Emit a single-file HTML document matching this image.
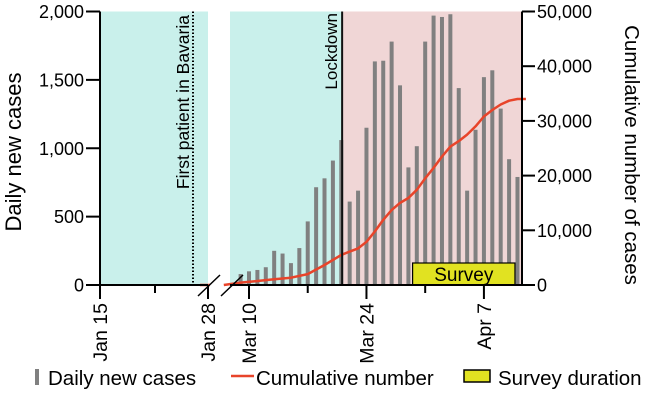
<!DOCTYPE html>
<html><head><meta charset="utf-8"><style>
body{margin:0;background:#fff;}
svg{display:block;font-family:"Liberation Sans",Arial,sans-serif;}
</style></head><body>
<svg id="chart" width="646" height="405" viewBox="0 0 646 405" xmlns="http://www.w3.org/2000/svg">
<g id="bg"></g>
<g id="bars"></g>
<g id="axes"></g>
</svg>
<script>
const dates = ["Mar 9","Mar 10","Mar 11","Mar 12","Mar 13","Mar 14","Mar 15","Mar 16","Mar 17","Mar 18","Mar 19","Mar 20","Mar 21","Mar 22","Mar 23","Mar 24","Mar 25","Mar 26","Mar 27","Mar 28","Mar 29","Mar 30","Mar 31","Apr 1","Apr 2","Apr 3","Apr 4","Apr 5","Apr 6","Apr 7","Apr 8","Apr 9","Apr 10","Apr 11"];
const dailyCases = [80,100,110,130,250,230,160,270,465,715,780,910,1060,610,690,1150,1635,1640,1780,1460,860,1015,1780,1970,1960,1980,1440,690,1135,1520,1570,1290,920,790];
const cumDays = [-2,0,2,4,6,8,10,12,13,14,15,16,17,18,19,20,21,22,23,24,25,26,27,28,29,30,31,32,33,34];
const cumValues = [0,430,730,1040,1340,2000,3660,5500,6100,6700,7900,9800,11900,13700,15000,15900,17400,19500,21400,23500,25300,26300,27500,29000,30800,32000,33000,33700,34000,34000];
const leftTicks = [0,500,1000,1500,2000];
const leftTickLabels = ["0","500","1,000","1,500","2,000"];
const rightTicks = [0,10000,20000,30000,40000,50000];
const rightTickLabels = ["0","10,000","20,000","30,000","40,000","50,000"];
const xTickDays = [1,15,29];
const xTickLabels = ["Mar 10","Mar 24","Apr 7"];
const xMinorDays = [8,22];
const lockdownDay = 12.1;
const surveyStart = 20.5, surveyEnd = 32.7;

const NS="http://www.w3.org/2000/svg";
const Y0=285, YT=11.5;
const yL=v=>Y0-(v/2000)*(Y0-YT);
const yR=v=>Y0-(v/50000)*(Y0-YT);
const xD=d=>249+(d-1)*8.39; // day index 0 = Mar 9
function mk(p,tag,a,name,txt){const e=document.createElementNS(NS,tag);for(const k in a)e.setAttribute(k,a[k]);


if(txt!==undefined)e.textContent=txt;document.getElementById(p).appendChild(e);return e;}
// backgrounds
mk('bg','rect',{x:101,y:YT,width:107,height:Y0-YT,fill:'#c9f0eb'},'pre-region-left');
mk('bg','rect',{x:230,y:YT,width:xD(lockdownDay)-230,height:Y0-YT,fill:'#c9f0eb'},'pre-lockdown-region');
mk('bg','rect',{x:xD(lockdownDay),y:YT,width:522-xD(lockdownDay),height:Y0-YT,fill:'#f0d6d6'},'lockdown-region');
// bars
dailyCases.forEach((v,i)=>{const b=mk('bars','rect',{x:xD(i)-2,y:yL(v),width:4,height:Y0-yL(v),fill:'#808080'},'bar-'+i);});
// survey box
mk('bars','rect',{x:xD(surveyStart),y:263,width:xD(surveyEnd)-xD(surveyStart),height:22,fill:'#e1e221',stroke:'#000','stroke-width':1.2},'survey-box');
mk('bars','text',{x:(xD(surveyStart)+xD(surveyEnd))/2,y:281,'font-size':19,'text-anchor':'middle',fill:'#000'},'survey-label','Survey');
// cumulative
let d=cumDays.map((c,i)=>(i?'L':'M')+xD(c).toFixed(1)+','+yR(cumValues[i]).toFixed(1)).join(' ');
mk('bars','path',{d:d,fill:'none',stroke:'#e8442a','stroke-width':2.5,'stroke-linejoin':'round'},'cumulative-line');
mk('bars','line',{x1:200,y1:Y0,x2:210,y2:Y0,stroke:'#e8442a','stroke-width':2.5},'cumulative-line-early');
// lockdown line
mk('axes','line',{x1:xD(lockdownDay),y1:YT,x2:xD(lockdownDay),y2:Y0,stroke:'#111','stroke-width':2},'lockdown-line');
mk('axes','text',{transform:`translate(${xD(lockdownDay)-5},13) rotate(-90)`,'font-size':17,'text-anchor':'end',fill:'#000'},'lockdown-label','Lockdown');
mk('axes','line',{x1:193,y1:YT,x2:193,y2:Y0,stroke:'#000','stroke-width':2,'stroke-dasharray':'1.5,2'},'first-patient-line');
mk('axes','text',{transform:'translate(189,15) rotate(-90)','font-size':17.5,'text-anchor':'end',fill:'#000'},'first-patient-label','First patient in Bavaria');
// axes
mk('axes','line',{x1:100,y1:YT,x2:100,y2:Y0+1,stroke:'#000','stroke-width':2},'left-axis');
mk('axes','line',{x1:522,y1:YT,x2:522,y2:Y0+1,stroke:'#000','stroke-width':2},'right-axis');
mk('axes','line',{x1:99,y1:Y0,x2:208,y2:Y0,stroke:'#000','stroke-width':2},'x-axis-left');
mk('axes','line',{x1:230,y1:Y0,x2:523,y2:Y0,stroke:'#000','stroke-width':2},'x-axis-right');
mk('axes','line',{x1:198,y1:296,x2:220,y2:275,stroke:'#000','stroke-width':1.5},'axis-break-1');
mk('axes','line',{x1:221,y1:296,x2:243,y2:275,stroke:'#000','stroke-width':1.5},'axis-break-2');
leftTicks.forEach((v,i)=>{mk('axes','line',{x1:86,y1:yL(v),x2:100,y2:yL(v),stroke:'#000','stroke-width':2},'left-tick');
mk('axes','text',{x:84,y:yL(v)+6.5,'font-size':18,'text-anchor':'end',fill:'#000'},'left-tick-label',leftTickLabels[i]);});
rightTicks.forEach((v,i)=>{mk('axes','line',{x1:522,y1:yR(v),x2:535,y2:yR(v),stroke:'#000','stroke-width':2},'right-tick');
mk('axes','text',{x:537,y:yR(v)+6.5,'font-size':18,fill:'#000'},'right-tick-label',rightTickLabels[i]);});
const allX=[[100,'Jan 15'],[208,'Jan 28']].concat(xTickDays.map((dd,i)=>[xD(dd),xTickLabels[i]]));
allX.forEach(([x,l])=>{mk('axes','line',{x1:x,y1:Y0,x2:x,y2:Y0+14,stroke:'#000','stroke-width':2},'x-tick');
mk('axes','text',{transform:`translate(${x+7},303) rotate(-90)`,'font-size':19.5,'text-anchor':'end',fill:'#000'},'x-tick-label',l);});
[155].concat(xMinorDays.map(xD)).forEach(x=>mk('axes','line',{x1:x,y1:Y0,x2:x,y2:Y0+8,stroke:'#000','stroke-width':2},'x-minor-tick'));
mk('axes','text',{transform:'translate(21,152) rotate(-90)','font-size':22,'text-anchor':'middle',fill:'#000'},'y-axis-title-left','Daily new cases');
mk('axes','text',{transform:'translate(625,155) rotate(90)','font-size':20.5,'text-anchor':'middle',fill:'#000'},'y-axis-title-right','Cumulative number of cases');
// legend
mk('axes','rect',{x:35,y:369,width:4,height:16,fill:'#808080'},'legend-bar-icon');
mk('axes','text',{x:48,y:385,'font-size':20.5,fill:'#000'},'legend-daily','Daily new cases');
mk('axes','line',{x1:231,y1:376,x2:254,y2:376,stroke:'#e8442a','stroke-width':2.5},'legend-line-icon');
mk('axes','text',{x:256,y:385,'font-size':20.5,fill:'#000'},'legend-cumulative','Cumulative number');
mk('axes','rect',{x:464,y:370,width:26,height:12,fill:'#e1e221',stroke:'#000','stroke-width':1.5},'legend-survey-icon');
mk('axes','text',{x:498,y:385,'font-size':20.5,fill:'#000'},'legend-survey','Survey duration');
</script>
</body></html>
